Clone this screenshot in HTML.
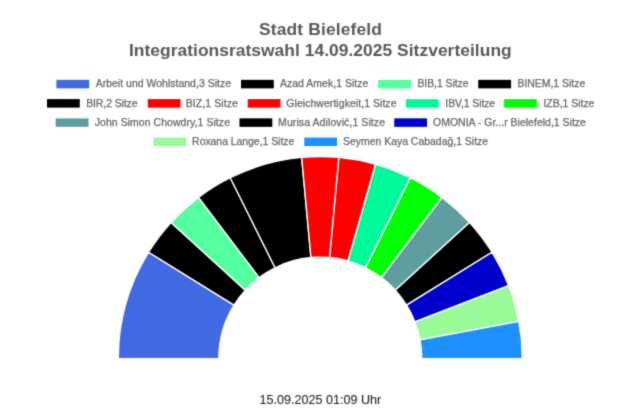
<!DOCTYPE html>
<html><head><meta charset="utf-8"><style>
html,body{margin:0;padding:0;background:#fff;width:640px;height:412px;overflow:hidden}
svg{display:block}
text{font-family:"Liberation Sans",Arial,sans-serif}
.t{font-size:17.4px;font-weight:bold;fill:#595959;text-anchor:middle}
.lg{font-size:10.45px;fill:#666;stroke:#666;stroke-width:0.25px}
.s{font-size:13px;fill:#2a2a2a;stroke:#2a2a2a;stroke-width:0.12px}
</style></head><body>
<svg width="640" height="412" viewBox="0 0 640 412">
<defs><filter id="bl" x="0" y="0" width="640" height="412" filterUnits="userSpaceOnUse" color-interpolation-filters="sRGB"><feConvolveMatrix order="3" kernelMatrix="0.0225 0.1050 0.0225 0.1050 0.4900 0.1050 0.0225 0.1050 0.0225" edgeMode="duplicate"/></filter></defs>
<g filter="url(#bl)">
<rect width="640" height="412" fill="#fff"/>
<text id="t1" x="259.09" y="35" class="t" textLength="122.77" lengthAdjust="spacing" style="text-anchor:start">Stadt Bielefeld</text>
<text id="t2" x="128.95" y="55.8" class="t" textLength="382.73" lengthAdjust="spacing" style="text-anchor:start">Integrationsratswahl 14.09.2025 Sitzverteilung</text>
<rect x="56.4" y="79.85" width="32.8" height="8.5" fill="#4169E1"/><text id="l0" x="95.69" y="87.35" class="lg" textLength="135.29" lengthAdjust="spacing">Arbeit und Wohlstand,3 Sitze</text><rect x="241.0" y="79.85" width="32.8" height="8.5" fill="#000000"/><text id="l1" x="279.89" y="87.35" class="lg" textLength="88.50" lengthAdjust="spacing">Azad Amek,1 Sitze</text><rect x="378.1" y="79.85" width="32.8" height="8.5" fill="#54FF9F"/><text id="l2" x="417.39" y="87.35" class="lg" textLength="51.11" lengthAdjust="spacing">BIB,1 Sitze</text><rect x="478.25" y="79.85" width="32.8" height="8.5" fill="#000000"/><text id="l3" x="517.45" y="87.35" class="lg" textLength="67.79" lengthAdjust="spacing">BINEM,1 Sitze</text><rect x="47.0" y="99.1" width="32.8" height="8.5" fill="#000000"/><text id="l4" x="86.19" y="106.60" class="lg" textLength="51.33" lengthAdjust="spacing">BIR,2 Sitze</text><rect x="147.8" y="99.1" width="32.8" height="8.5" fill="#FF0000"/><text id="l5" x="185.79" y="106.60" class="lg" textLength="52.10" lengthAdjust="spacing">BIZ,1 Sitze</text><rect x="247.75" y="99.1" width="32.8" height="8.5" fill="#FF0000"/><text id="l6" x="286.36" y="106.60" class="lg" textLength="110.10" lengthAdjust="spacing">Gleichwertigkeit,1 Sitze</text><rect x="405.9" y="99.1" width="32.8" height="8.5" fill="#00FA9A"/><text id="l7" x="445.33" y="106.60" class="lg" textLength="49.85" lengthAdjust="spacing">IBV,1 Sitze</text><rect x="504.1" y="99.1" width="32.8" height="8.5" fill="#00FF00"/><text id="l8" x="543.43" y="106.60" class="lg" textLength="51.00" lengthAdjust="spacing">IZB,1 Sitze</text><rect x="55.7" y="118.35" width="32.8" height="8.5" fill="#5F9EA0"/><text id="l9" x="94.73" y="125.85" class="lg" textLength="135.22" lengthAdjust="spacing">John Simon Chowdry,1 Sitze</text><rect x="239.5" y="118.35" width="32.8" height="8.5" fill="#000000"/><text id="l10" x="278.10" y="125.85" class="lg" textLength="106.91" lengthAdjust="spacing">Murisa Adilović,1 Sitze</text><rect x="394.25" y="118.35" width="32.8" height="8.5" fill="#0000CD"/><text id="l11" x="433.11" y="125.85" class="lg" textLength="152.75" lengthAdjust="spacing">OMONIA - Gr...r Bielefeld,1 Sitze</text><rect x="153.5" y="137.6" width="32.8" height="8.5" fill="#98FB98"/><text id="l12" x="192.12" y="145.10" class="lg" textLength="102.12" lengthAdjust="spacing">Roxana Lange,1 Sitze</text><rect x="304.3" y="137.6" width="32.8" height="8.5" fill="#1E90FF"/><text id="l13" x="342.98" y="145.10" class="lg" textLength="145.08" lengthAdjust="spacing">Seymen Kaya Cabadağ,1 Sitze</text>
<g stroke="#fff" stroke-width="1.35" stroke-linejoin="round"><path d="M118.30 358.55A202.0 202.0 0 0 1 148.56 252.21L234.05 305.14A101.45 101.45 0 0 0 218.85 358.55Z" fill="#4169E1"/><path d="M148.56 252.21A202.0 202.0 0 0 1 171.02 222.46L245.33 290.20A101.45 101.45 0 0 0 234.05 305.14Z" fill="#000000"/><path d="M171.02 222.46A202.0 202.0 0 0 1 198.57 197.35L259.16 277.59A101.45 101.45 0 0 0 245.33 290.20Z" fill="#54FF9F"/><path d="M198.57 197.35A202.0 202.0 0 0 1 230.26 177.73L275.08 267.74A101.45 101.45 0 0 0 259.16 277.59Z" fill="#000000"/><path d="M230.26 177.73A202.0 202.0 0 0 1 301.66 157.41L310.94 257.53A101.45 101.45 0 0 0 275.08 267.74Z" fill="#000000"/><path d="M301.66 157.41A202.0 202.0 0 0 1 338.94 157.41L329.66 257.53A101.45 101.45 0 0 0 310.94 257.53Z" fill="#FF0000"/><path d="M338.94 157.41A202.0 202.0 0 0 1 375.58 164.26L348.06 260.97A101.45 101.45 0 0 0 329.66 257.53Z" fill="#FF0000"/><path d="M375.58 164.26A202.0 202.0 0 0 1 410.34 177.73L365.52 267.74A101.45 101.45 0 0 0 348.06 260.97Z" fill="#00FA9A"/><path d="M410.34 177.73A202.0 202.0 0 0 1 442.03 197.35L381.44 277.59A101.45 101.45 0 0 0 365.52 267.74Z" fill="#00FF00"/><path d="M442.03 197.35A202.0 202.0 0 0 1 469.58 222.46L395.27 290.20A101.45 101.45 0 0 0 381.44 277.59Z" fill="#5F9EA0"/><path d="M469.58 222.46A202.0 202.0 0 0 1 492.04 252.21L406.55 305.14A101.45 101.45 0 0 0 395.27 290.20Z" fill="#000000"/><path d="M492.04 252.21A202.0 202.0 0 0 1 508.66 285.58L414.90 321.90A101.45 101.45 0 0 0 406.55 305.14Z" fill="#0000CD"/><path d="M508.66 285.58A202.0 202.0 0 0 1 518.86 321.43L420.02 339.91A101.45 101.45 0 0 0 414.90 321.90Z" fill="#98FB98"/><path d="M518.86 321.43A202.0 202.0 0 0 1 522.30 358.55L421.75 358.55A101.45 101.45 0 0 0 420.02 339.91Z" fill="#1E90FF"/></g>
<text x="259.6" y="403.6" class="s" textLength="121.6" lengthAdjust="spacingAndGlyphs">15.09.2025 01:09 Uhr</text>
</g>
</svg>
</body></html>
